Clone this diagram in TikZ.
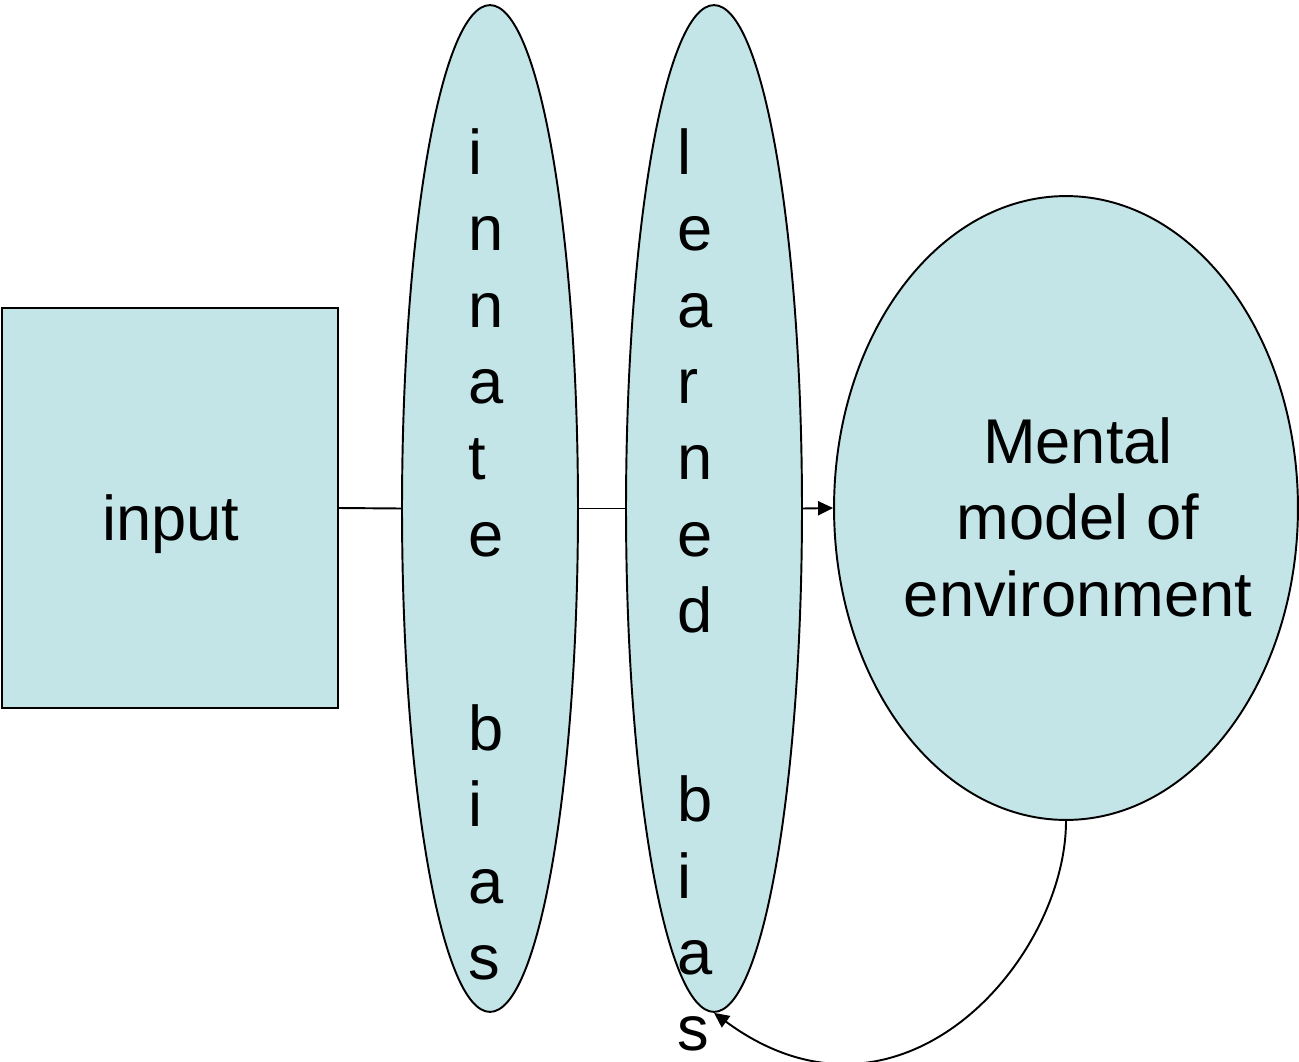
\documentclass[tikz,border=0pt]{standalone}
\usepackage{fontspec}
\setmainfont{Liberation Sans}
\usetikzlibrary{shapes.geometric,arrows.meta}

\begin{document}
\begin{tikzpicture}[x=0.02cm, y=-0.02cm,
    bigfont/.style={font=\fontsize{36}{43.5}\selectfont},
    blob/.style={draw=black, line width=1.1pt, fill=shapefill, inner sep=0pt},
    lettercol/.style={bigfont, align=left, anchor=north west, inner sep=0pt},
    arrowline/.style={-{Triangle[length=0.3cm, width=0.28cm]}}]

    \definecolor{shapefill}{RGB}{196,229,232}

    \useasboundingbox (0,0) rectangle (1299,1062);

    \node[blob, rectangle, minimum width=6.72cm, minimum height=8cm] (input) at (170,508) {};
    \node[blob, ellipse, minimum width=3.52cm, minimum height=20.14cm] (innate) at (490,508.5) {};
    \node[blob, ellipse, minimum width=3.52cm, minimum height=20.14cm] (learned) at (714,508.5) {};
    \node[blob, ellipse, minimum width=9.28cm, minimum height=12.48cm] (mental) at (1066,508) {};

    \node[bigfont, anchor=base] (inputtext) at (171,540) {input};
    \node[lettercol] (innatetext) at (468,128) {i\\n\\n\\a\\t\\e\\[67pt]b\\i\\a\\s};
    \node[lettercol] (learnedtext) at (677,128) {l\\e\\a\\r\\n\\e\\d\\[64pt]b\\i\\a\\s};
    \node[bigfont, align=center, anchor=north, inner sep=0pt] (mentaltext) at (1078,417)
        {Mental\\model of\\environment};

    \draw[line width=1.1pt] (input.east) -- (innate.west);
    \draw[line width=1.1pt] (innate.east) -- (learned.west);
    \draw[line width=1.1pt, arrowline] (learned.east) -- (mental.west);
    \draw[line width=1.1pt, arrowline] (mental.south) .. controls (1066,960) and (900,1150) .. (learned.south);
\end{tikzpicture}
\end{document}
